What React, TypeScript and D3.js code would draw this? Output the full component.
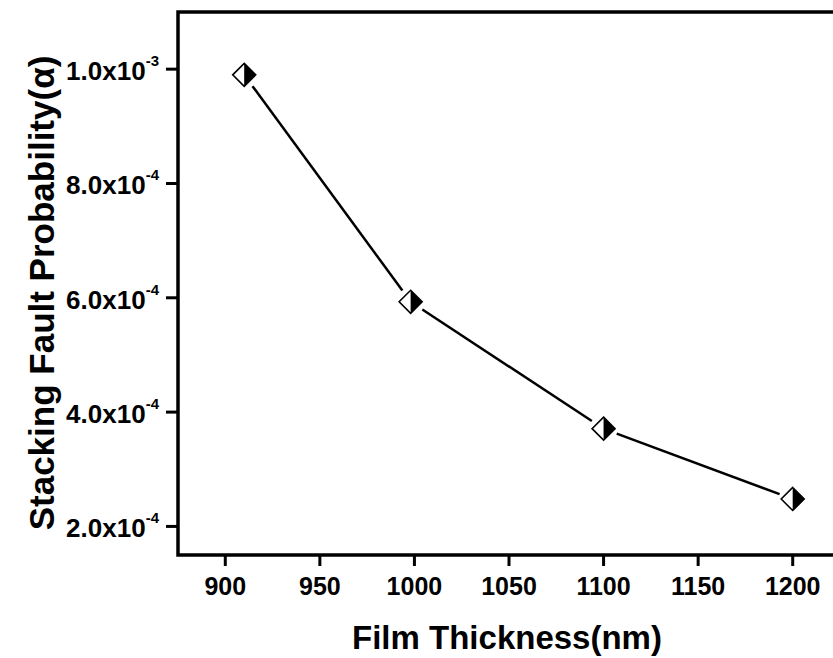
import React from "react";
import { scaleLinear } from "d3";

// film thickness (nm) vs stacking fault probability
const thickness = [910, 998, 1100, 1200];
const probability = [9.9e-4, 5.93e-4, 3.71e-4, 2.48e-4];

const xTicks = [900, 950, 1000, 1050, 1100, 1150, 1200];
const yTicks = [2e-4, 4e-4, 6e-4, 8e-4, 1e-3];

const W = 833;
const H = 658;
const margin = { left: 178, top: 12, bottom: 103 };
const font = "'Liberation Sans', Arial, sans-serif";

function sciParts(v: number) {
  const exp = Math.floor(Math.log10(v) + 1e-9);
  const mant = v / Math.pow(10, exp);
  return { mant: mant.toFixed(1), exp: String(exp) };
}

export default function App() {
  const x = scaleLinear().domain([875, 1225]).range([margin.left, 840]);
  const y = scaleLinear().domain([1.5e-4, 1.1e-3]).range([H - margin.bottom, margin.top]);

  const pts = thickness.map((t, i) => ({ px: x(t), py: y(probability[i]) }));
  const r = 11.5; // diamond half-diagonal
  const gap = 14;

  // line segments, trimmed so they stop just short of the markers
  const segs = pts.slice(1).map((p, i) => {
    const a = pts[i];
    const dx = p.px - a.px;
    const dy = p.py - a.py;
    const len = Math.sqrt(dx * dx + dy * dy);
    const ux = dx / len;
    const uy = dy / len;
    return {
      x1: a.px + ux * gap,
      y1: a.py + uy * gap,
      x2: p.px - ux * gap,
      y2: p.py - uy * gap,
    };
  });

  const x0 = margin.left;
  const y0 = H - margin.bottom;

  return (
    <svg
      width={W}
      height={H}
      style={{ position: "absolute", left: 0, top: 0, background: "#fff" }}
      fontFamily={font}
      fontWeight="bold"
    >
      {/* frame (right edge runs off the picture) */}
      <path
        d={`M${W + 10},${margin.top}H${x0}V${y0}H${W + 10}`}
        fill="none"
        stroke="#000"
        strokeWidth={3.5}
      />

      {/* x ticks */}
      {xTicks.map((t) => (
        <g key={t}>
          <line x1={x(t)} x2={x(t)} y1={y0} y2={y0 + 11} stroke="#000" strokeWidth={3} />
          <text x={x(t)} y={595} textAnchor="middle" fontSize={25} fill="#000">
            {t}
          </text>
        </g>
      ))}

      {/* y ticks */}
      {yTicks.map((t) => {
        const { mant, exp } = sciParts(t);
        return (
          <g key={t}>
            <line x1={x0 - 12} x2={x0} y1={y(t)} y2={y(t)} stroke="#000" strokeWidth={3} />
            <text x={159} y={y(t) + 11} textAnchor="end" fontSize={26} fill="#000">
              {mant}x10
              <tspan fontSize={15} dy={-14}>
                {exp}
              </tspan>
            </text>
          </g>
        );
      })}

      {/* axis titles */}
      <text x={507} y={649} textAnchor="middle" fontSize={33} fill="#000">
        Film Thickness(nm)
      </text>
      <text
        transform={`translate(54,${293}) rotate(-90)`}
        textAnchor="middle"
        fontSize={35}
        fill="#000"
      >
        Stacking Fault Probability(α)
      </text>

      {/* connecting line */}
      {segs.map((s, i) => (
        <line key={i} {...s} stroke="#000" strokeWidth={2.5} />
      ))}

      {/* half-filled diamonds */}
      {pts.map((p, i) => (
        <g key={i} transform={`translate(${p.px},${p.py})`}>
          <path d={`M0,${-r}L${-r},0L0,${r}Z`} fill="#fff" />
          <path d={`M0,${-r}L${r},0L0,${r}Z`} fill="#000" />
          <path
            d={`M0,${-r}L${r},0L0,${r}L${-r},0Z`}
            fill="none"
            stroke="#000"
            strokeWidth={1.6}
          />
        </g>
      ))}
    </svg>
  );
}
